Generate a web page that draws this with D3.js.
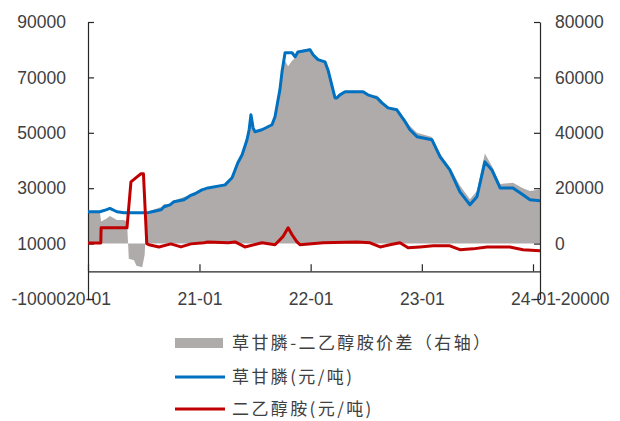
<!DOCTYPE html>
<html><head><meta charset="utf-8">
<script src="https://cdn.jsdelivr.net/npm/d3@7"></script>
<style>
html,body{margin:0;padding:0;background:#fff;}
svg{display:block;}
</style>
</head><body>
<svg id="chart" width="620" height="421"></svg>
<script>
// ---------------- data ----------------
const xTickDates = ["2020-01-01","2021-01-01","2022-01-01","2023-01-01","2024-01-01"];
const xTickLabels = ["20-01","21-01","22-01","23-01","24-01"];
const leftTicks = [-10000,10000,30000,50000,70000,90000];
const rightTicks = [-20000,0,20000,40000,60000,80000];

const blueDates = ["2020-01-01","2020-02-09","2020-02-29","2020-03-13","2020-04-05","2020-04-28","2020-07-13","2020-07-29","2020-08-28","2020-09-07","2020-09-26","2020-10-09","2020-11-11","2020-12-01","2020-12-17","2021-01-09","2021-01-29","2021-03-26","2021-04-18","2021-05-07","2021-05-21","2021-06-06","2021-06-13","2021-06-19","2021-06-26","2021-07-02","2021-07-25","2021-08-27","2021-09-06","2021-09-16","2021-09-22","2021-09-29","2021-10-09","2021-11-01","2021-11-11","2021-11-20","2021-12-30","2022-01-09","2022-01-25","2022-02-17","2022-02-27","2022-03-22","2022-03-28","2022-04-07","2022-04-24","2022-06-22","2022-07-08","2022-08-07","2022-08-23","2022-09-12","2022-10-11","2022-11-07","2022-11-23","2022-12-16","2023-02-03","2023-03-02","2023-04-03","2023-05-06","2023-06-08","2023-07-01","2023-07-27","2023-08-19","2023-09-15","2023-10-27","2023-11-29","2023-12-22","2024-01-24"];
const blueValues = [21500,21500,22200,22700,21500,21100,21100,21500,22200,23300,24000,25100,25800,27300,28000,29400,30100,31200,33800,39200,42100,47500,51100,56500,51800,50400,51100,52900,55800,61900,65500,72000,78900,78900,77400,79200,80000,78200,76400,75600,72700,62600,62600,63700,64800,64800,63700,62600,60800,59000,58300,54000,51100,48600,47500,41300,36600,28700,24000,26900,39500,36600,30100,30100,27600,25800,25500];

const redDates = ["2020-01-01","2020-02-12","2020-02-13","2020-05-08","2020-05-21","2020-06-10","2020-06-23","2020-07-01","2020-07-12","2020-07-19","2020-08-21","2020-09-29","2020-11-01","2020-12-04","2021-01-16","2021-01-29","2021-04-05","2021-04-28","2021-05-30","2021-07-25","2021-09-06","2021-10-02","2021-10-19","2021-11-01","2021-11-17","2021-11-27","2022-02-11","2022-06-02","2022-07-15","2022-08-17","2022-09-18","2022-10-21","2022-11-17","2022-12-26","2023-02-07","2023-04-03","2023-05-06","2023-06-18","2023-08-03","2023-10-17","2023-11-29","2024-01-24"];
const redValues = [10200,10200,15700,15700,32300,34100,35200,35200,10000,9600,8800,9900,8800,9900,10300,10600,10300,10600,8800,10300,9600,12500,15700,13200,10600,9600,10300,10600,10300,8800,9600,10300,8500,8800,9200,9200,7800,8100,8800,8800,7800,7400];

const spreadDates = ["2020-01-01","2020-02-09","2020-02-13","2020-03-01","2020-03-13","2020-04-05","2020-04-28","2020-05-08","2020-05-14","2020-05-31","2020-06-08","2020-06-27","2020-07-05","2020-07-12","2020-07-19","2020-07-29","2020-08-28","2020-09-07","2020-09-26","2020-10-09","2020-11-11","2020-12-01","2020-12-17","2021-01-09","2021-01-29","2021-03-26","2021-04-18","2021-05-07","2021-05-21","2021-06-06","2021-06-13","2021-06-19","2021-06-26","2021-07-02","2021-07-25","2021-08-27","2021-09-06","2021-09-16","2021-09-22","2021-09-29","2021-10-09","2021-10-19","2021-11-01","2021-11-11","2021-11-20","2021-12-30","2022-01-09","2022-01-25","2022-02-17","2022-02-27","2022-03-22","2022-03-28","2022-04-07","2022-04-24","2022-06-22","2022-07-08","2022-08-07","2022-08-23","2022-09-12","2022-10-11","2022-11-07","2022-11-23","2022-12-16","2023-02-03","2023-03-02","2023-04-03","2023-05-06","2023-06-08","2023-07-01","2023-07-27","2023-08-19","2023-09-15","2023-10-27","2023-11-29","2023-12-22","2024-01-24"];
const spreadValues = [11300,11300,8000,9000,10000,8500,8500,8000,-5500,-6000,-8000,-8500,-4000,11000,11500,12000,13200,14300,14300,15500,16800,17500,18300,19200,19600,21000,23500,29500,32500,38500,42000,46500,41500,40500,41000,43000,46000,52000,55500,61000,66000,64000,66000,67000,69500,70500,68000,66500,65500,62500,52500,52500,53500,55000,55000,53500,53500,51500,49500,48000,45000,42500,40000,38500,32500,27500,21000,16000,19000,32500,28000,21500,22000,20000,19000,19500];

const legendLabels = ["草甘膦-二乙醇胺价差（右轴）","草甘膦(元/吨)","二乙醇胺(元/吨)"];

// ---------------- chart ----------------
const parse = d3.timeParse("%Y-%m-%d");
const svg = d3.select("#chart");
const L = 88, R = 540, T = 22, B = 299;
const numFont = "'Liberation Sans', Arial, sans-serif";
const cjkFont = "'Noto Sans CJK SC', sans-serif";
const textColor = "#404040";
const axisColor = "#262626";
const fmt = d => String(d);   // plain hyphen minus, as in the reference

const x = d3.scaleTime().domain([parse("2020-01-01"), parse("2024-01-24")]).range([L, R]);
const yL = d3.scaleLinear().domain([-10000, 90000]).range([B, T]);
const yR = d3.scaleLinear().domain([-20000, 80000]).range([B, T]);

const blue = blueDates.map((d,i)=>({d:parse(d), v:blueValues[i]}));
const red = redDates.map((d,i)=>({d:parse(d), v:redValues[i]}));
const spread = spreadDates.map((d,i)=>({d:parse(d), v:spreadValues[i]}));

// spread area (right axis)
svg.append("path")
  .datum(spread)
  .attr("fill", "#AFABAB")
  .attr("d", d3.area().x(p=>x(p.d)).y0(yR(0)).y1(p=>yR(p.v)));

// axes
const xAxis = svg.append("g").attr("transform", `translate(0,${yL(0)})`)
  .call(d3.axisBottom(x).tickValues(xTickDates.map(parse))
    .tickFormat((d,i)=>xTickLabels[i]).tickSize(-7).tickSizeOuter(0));
xAxis.selectAll("text").attr("y", B - yL(0)).attr("dy", "0.35em");

const yAxisL = svg.append("g").attr("transform", `translate(${L},0)`)
  .call(d3.axisLeft(yL).tickValues(leftTicks).tickFormat(fmt).tickSize(-6).tickSizeOuter(0));
yAxisL.selectAll("text").attr("x", -22);

const yAxisR = svg.append("g").attr("transform", `translate(${R},0)`)
  .call(d3.axisRight(yR).tickValues(rightTicks).tickFormat(fmt).tickSize(-6).tickSizeOuter(0));
yAxisR.selectAll("text").attr("x", 15);

[xAxis, yAxisL, yAxisR].forEach(g=>{
  g.selectAll("path,line").attr("stroke", axisColor).attr("stroke-width", 1.2);
  g.selectAll("text").attr("fill", textColor).style("font-family", numFont).style("font-size", "17.5px");
});

// lines
const line = (ys)=>d3.line().x(p=>x(p.d)).y(p=>ys(p.v));
svg.append("path").datum(blue).attr("fill","none").attr("stroke","#0070C0")
  .attr("stroke-width",3).attr("stroke-linejoin","round").attr("d", line(yL));
svg.append("path").datum(red).attr("fill","none").attr("stroke","#C00000")
  .attr("stroke-width",3).attr("stroke-linejoin","round").attr("d", line(yL));

// legend
const lg = svg.append("g");
const rows = [343, 377, 409];
lg.append("rect").attr("x",175).attr("y",rows[0]-5).attr("width",48).attr("height",10).attr("fill","#AFABAB");
lg.append("line").attr("x1",175).attr("x2",225).attr("y1",rows[1]).attr("y2",rows[1]).attr("stroke","#0070C0").attr("stroke-width",3.2);
lg.append("line").attr("x1",175).attr("x2",225).attr("y1",rows[2]).attr("y2",rows[2]).attr("stroke","#C00000").attr("stroke-width",3.2);
legendLabels.forEach((t,i)=>{
  lg.append("text").attr("x",232).attr("y",rows[i]).attr("dy","0.35em")
    .attr("fill", textColor).style("font-family", cjkFont).style("font-size","17px")
    .style("letter-spacing","2.4px").text(t);
});
</script>
</body></html>
